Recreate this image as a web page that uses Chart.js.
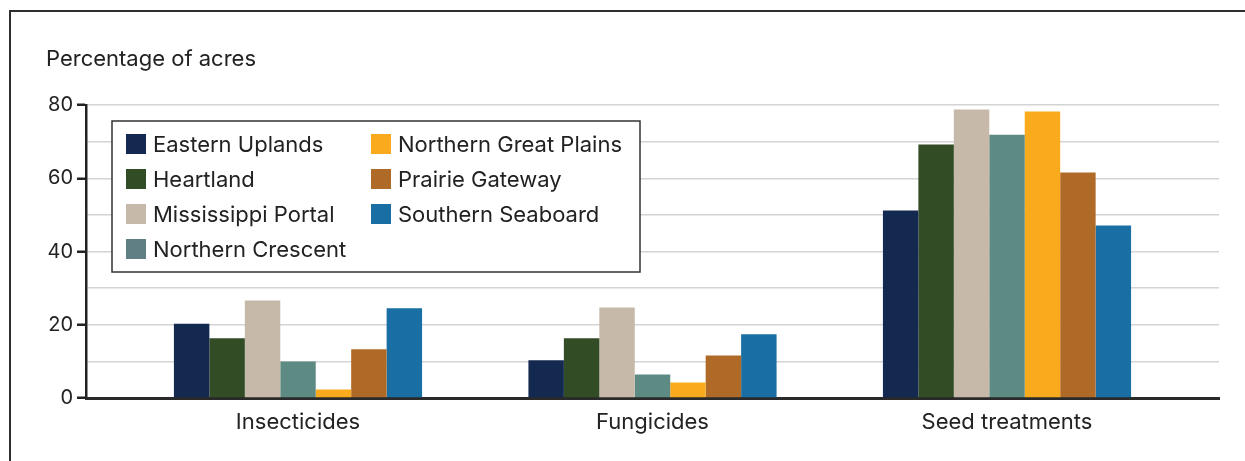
<!DOCTYPE html>
<html>
<head>
<meta charset="utf-8">
<script src="https://cdn.jsdelivr.net/npm/chart.js@4.4.1/dist/chart.umd.min.js"></script>
<style>
  html, body { margin: 0; padding: 0; background: #fff; overflow: hidden; }
  #wrap { position: relative; width: 1245px; height: 461px; }
  #frame { position: absolute; left: 9px; top: 10px; width: 1300px; height: 500px;
           border-left: 2.5px solid #2e2e2e; border-top: 2.5px solid #2e2e2e; box-sizing: border-box; }
  canvas { position: absolute; left: 0; top: 0; }
</style>
</head>
<body>
<div id="wrap">
  <div id="frame"></div>
  <canvas id="c" width="1245" height="461"></canvas>
</div>
<script>
// Pesticide use by region, percentage of planted acres
const categories = ['Insecticides', 'Fungicides', 'Seed treatments'];
const regions = ['Eastern Uplands', 'Heartland', 'Mississippi Portal', 'Northern Crescent',
                 'Northern Great Plains', 'Prairie Gateway', 'Southern Seaboard'];
const easternUplands      = [20.3, 10.3, 51.2];
const heartland           = [16.3, 16.3, 69.2];
const mississippiPortal   = [26.6, 24.7, 78.8];
const northernCrescent    = [10.0,  6.4, 71.9];
const northernGreatPlains = [ 2.3,  4.2, 78.2];
const prairieGateway      = [13.3, 11.6, 61.6];
const southernSeaboard    = [24.5, 17.4, 47.1];
const yTicks = [0, 20, 40, 60, 80];

const seriesValues = [easternUplands, heartland, mississippiPortal, northernCrescent,
                      northernGreatPlains, prairieGateway, southernSeaboard];
const barColors = ['#13294f', '#324d25', '#c6b9a9', '#5d8a82', '#f9ab1d', '#b06a28', '#196ea3'];
const swatchColors = ['#13294f', '#324d25', '#c6b9a9', '#5f7f84', '#f9ab1d', '#b06a28', '#196ea3'];

const FONT = 'Inter, Roboto, "Noto Sans", sans-serif';
const TEXT = '#222222';

const datasets = regions.map((name, r) => ({
  label: name,
  data: categories.map((_, i) => ({ x: i, y: seriesValues[r][i] })),
  backgroundColor: barColors[r],
  borderWidth: 0,
  categoryPercentage: 0.7,
  barPercentage: 1.0
}));

// y-axis caption and boxed two-column legend
const decorations = {
  id: 'decorations',
  afterDraw(chart) {
    const ctx = chart.ctx;
    ctx.save();
    ctx.fillStyle = TEXT;
    ctx.font = '22px ' + FONT;
    ctx.textBaseline = 'middle';
    ctx.textAlign = 'left';
    ctx.fillText('Percentage of acres', 46, 59);

    // legend box
    const bx = 112, by = 121, bw = 528, bh = 151;
    ctx.fillStyle = '#fff';
    ctx.fillRect(bx, by, bw, bh);
    ctx.strokeStyle = '#333';
    ctx.lineWidth = 1.5;
    ctx.strokeRect(bx, by, bw, bh);
    const rowY = [144, 179, 214, 249];
    const colX = [126, 371];
    chart.data.datasets.forEach((ds, i) => {
      const col = i < 4 ? 0 : 1;
      const row = i < 4 ? i : i - 4;
      const x = colX[col], y = rowY[row];
      ctx.fillStyle = swatchColors[i];
      ctx.fillRect(x, y - 10, 20, 20);
      ctx.fillStyle = TEXT;
      ctx.font = '22px ' + FONT;
      ctx.fillText(ds.label, x + 27, y + 1);
    });
    ctx.restore();
  }
};

new Chart(document.getElementById('c'), {
  type: 'bar',
  data: { datasets },
  plugins: [decorations],
  options: {
    responsive: false,
    animation: false,
    layout: { padding: { left: 0, top: 105, right: 26, bottom: 0 } },
    plugins: { legend: { display: false }, tooltip: { enabled: false } },
    scales: {
      x: {
        type: 'linear',
        offset: false,
        min: -0.598,
        max: 2.598,
        afterBuildTicks(scale) { scale.ticks = categories.map((_, i) => ({ value: i })); },
        afterFit(scale) { scale.height = 63; },
        grid: { display: false, drawTicks: false },
        border: { display: true, color: '#2a2a2a', width: 3 },
        ticks: {
          padding: 11,
          color: TEXT,
          font: { family: FONT, size: 22 },
          callback: (v) => categories[v] ?? ''
        }
      },
      y: {
        min: 0,
        max: 80,
        afterBuildTicks(scale) {
          const t = [];
          for (let v = 0; v <= 80; v += 10) t.push({ value: v });
          scale.ticks = t;
        },
        afterFit(scale) { scale.width = 86; },
        grid: {
          color: '#d4d4d4',
          lineWidth: 1.5,
          drawTicks: true,
          tickLength: 9,
          tickWidth: 2.5,
          tickColor: (c) => (yTicks.includes(c.tick.value) ? '#222' : 'rgba(0,0,0,0)')
        },
        border: { display: true, color: '#222', width: 2.5 },
        ticks: {
          padding: 4,
          color: TEXT,
          font: { family: FONT, size: 20 },
          callback: (v) => (yTicks.includes(v) ? String(v) : '')
        }
      }
    }
  }
});
</script>
</body>
</html>
